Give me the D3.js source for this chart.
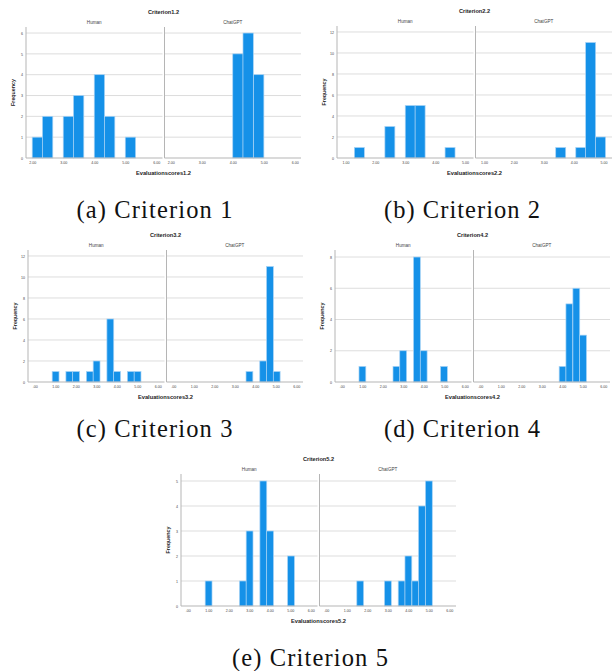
<!DOCTYPE html>
<html><head><meta charset="utf-8">
<script src="https://cdn.jsdelivr.net/npm/d3@7"></script>
<style>body{margin:0;background:#fff}</style>
</head><body>
<svg id="c" width="612" height="671" xmlns="http://www.w3.org/2000/svg"></svg>
<script>
// ---------- data ----------
const titles = ["Criterion1.2", "Criterion2.2", "Criterion3.2", "Criterion4.2", "Criterion5.2"];
const xTitles = ["Evaluationscores1.2", "Evaluationscores2.2", "Evaluationscores3.2", "Evaluationscores4.2", "Evaluationscores5.2"];
const captions = ["(a) Criterion 1", "(b) Criterion 2", "(c) Criterion 3", "(d) Criterion 4", "(e) Criterion 5"];
const groups = ["Human", "ChatGPT"];
const binWidth = 1 / 3;

// bin start values and frequencies
const c1HumanBins = [2.0, 2.33, 3.0, 3.33, 4.0, 4.33, 5.0];
const c1HumanCounts = [1, 2, 2, 3, 4, 2, 1];
const c1ChatBins = [4.0, 4.33, 4.67];
const c1ChatCounts = [5, 6, 4];

const c2HumanBins = [1.3, 2.32, 3.0, 3.33, 4.33];
const c2HumanCounts = [1, 3, 5, 5, 1];
const c2ChatBins = [3.4, 4.07, 4.4, 4.73];
const c2ChatCounts = [1, 1, 11, 2];

const c3HumanBins = [0.85, 1.52, 1.85, 2.52, 2.85, 3.52, 3.85, 4.52, 4.85];
const c3HumanCounts = [1, 1, 1, 1, 2, 6, 1, 1, 1];
const c3ChatBins = [3.55, 4.22, 4.55, 4.88];
const c3ChatCounts = [1, 2, 11, 1];

const c4HumanBins = [0.84, 2.5, 2.83, 3.5, 3.83, 4.82];
const c4HumanCounts = [1, 1, 2, 8, 2, 1];
const c4ChatBins = [3.85, 4.18, 4.52, 4.85];
const c4ChatCounts = [1, 5, 6, 3];

const c5HumanBins = [0.85, 2.52, 2.85, 3.52, 3.85, 4.87];
const c5HumanCounts = [1, 1, 3, 5, 3, 2];
const c5ChatBins = [1.49, 2.84, 3.51, 3.84, 4.18, 4.5, 4.84];
const c5ChatCounts = [1, 1, 1, 2, 1, 4, 5];

const yTicks = [[0,1,2,3,4,5,6], [0,2,4,6,8,10,12], [0,2,4,6,8,10,12], [0,2,4,6,8], [0,1,2,3,4,5]];
const xTicks = [[2,3,4,5,6], [1,2,3,4,5], [0,1,2,3,4,5,6], [0,1,2,3,4,5,6], [0,1,2,3,4,5,6]];

const series = [
  [[c1HumanBins, c1HumanCounts], [c1ChatBins, c1ChatCounts]],
  [[c2HumanBins, c2HumanCounts], [c2ChatBins, c2ChatCounts]],
  [[c3HumanBins, c3HumanCounts], [c3ChatBins, c3ChatCounts]],
  [[c4HumanBins, c4HumanCounts], [c4ChatBins, c4ChatCounts]],
  [[c5HumanBins, c5HumanCounts], [c5ChatBins, c5ChatCounts]]
];

// ---------- layout ----------
const layout = [
  {left: 26,  top: 27,  bottom: 158, xDom: [1.8, 6.2],    yMax: 6.29,  capX: 154.5, capY: 218},
  {left: 337, top: 26,  bottom: 158, xDom: [0.72, 5.28],  yMax: 12.57, capX: 462,   capY: 218},
  {left: 28,  top: 250, bottom: 382, xDom: [-0.33, 6.33], yMax: 12.57, capX: 154.5, capY: 437},
  {left: 335, top: 250, bottom: 382, xDom: [-0.33, 6.33], yMax: 8.45,  capX: 462,   capY: 437},
  {left: 181, top: 474, bottom: 606, xDom: [-0.33, 6.33], yMax: 5.28,  capX: 310,   capY: 666}
];
const facetW = 136.5, gap = 2;
const sans = "'Liberation Sans', Arial, sans-serif";
const fmt = d => d === 0 ? ".00" : d.toFixed(2);

const svg = d3.select("#c");

layout.forEach((L, i) => {
  const g = svg.append("g");
  const y = d3.scaleLinear().domain([0, L.yMax]).range([L.bottom, L.top]);
  const totalW = facetW * 2 + gap;
  const midX = L.left + totalW / 2;

  // title
  g.append("text").attr("x", midX).attr("y", L.top - 15).attr("dy", "0.35em")
    .attr("text-anchor", "middle").attr("font-family", sans).attr("font-weight", "bold")
    .attr("font-size", 5.6).attr("fill", "#222").text(titles[i]);

  // y title
  g.append("text").attr("transform", `translate(${L.left - 13},${(L.top + L.bottom) / 2}) rotate(-90)`)
    .attr("dy", "0.35em").attr("text-anchor", "middle").attr("font-family", sans)
    .attr("font-weight", "bold").attr("font-size", 5.3).attr("fill", "#222").text("Frequency");

  // x title
  g.append("text").attr("x", midX).attr("y", L.bottom + 15).attr("dy", "0.35em")
    .attr("text-anchor", "middle").attr("font-family", sans).attr("font-weight", "bold")
    .attr("font-size", 5.7).attr("fill", "#222").text(xTitles[i]);

  // y tick labels
  const yAxis = d3.axisLeft(y).tickValues(yTicks[i]).tickSize(0).tickPadding(3).tickFormat(d3.format("d"));
  const ya = g.append("g").attr("transform", `translate(${L.left},0)`).call(yAxis);
  ya.select(".domain").remove();
  ya.selectAll("text").attr("font-family", sans).attr("font-size", 3.6).attr("fill", "#444");

  groups.forEach((grp, j) => {
    const x0 = L.left + j * (facetW + gap);
    const x = d3.scaleLinear().domain(L.xDom).range([x0, x0 + facetW]);
    const fg = g.append("g");

    // gridlines
    fg.selectAll("line.grid").data(yTicks[i].filter(v => v > 0)).join("line")
      .attr("x1", x0).attr("x2", x0 + facetW)
      .attr("y1", d => y(d)).attr("y2", d => y(d))
      .attr("stroke", "#d9d9d9").attr("stroke-width", 0.9);

    // subtitle
    fg.append("text").attr("x", x0 + facetW / 2).attr("y", L.top - 4.5).attr("dy", "0.35em")
      .attr("text-anchor", "middle").attr("font-family", sans).attr("font-size", 4.6)
      .attr("fill", "#444").text(grp);

    // bars
    const [bins, counts] = series[i][j];
    const data = bins.map((b, k) => ({x0: b, n: counts[k]}));
    fg.selectAll("rect").data(data).join("rect")
      .attr("x", d => x(d.x0)).attr("width", d => x(d.x0 + binWidth) - x(d.x0))
      .attr("y", d => y(d.n)).attr("height", d => y(0) - y(d.n))
      .attr("fill", "#1591e8").attr("stroke", "#a8d3f5").attr("stroke-width", 0.7);

    // x axis
    const xAxis = d3.axisBottom(x).tickValues(xTicks[i]).tickSize(0).tickPadding(3).tickFormat(fmt);
    const xa = fg.append("g").attr("transform", `translate(0,${L.bottom})`).call(xAxis);
    xa.select(".domain").remove();
    xa.selectAll("text").attr("font-family", sans).attr("font-size", 3.6).attr("fill", "#444");

    // axis lines
    fg.append("line").attr("x1", x0).attr("x2", x0 + facetW).attr("y1", L.bottom).attr("y2", L.bottom)
      .attr("stroke", "#b5b5b5").attr("stroke-width", 1);
    fg.append("line").attr("x1", x0).attr("x2", x0).attr("y1", L.top).attr("y2", L.bottom)
      .attr("stroke", "#b5b5b5").attr("stroke-width", 1);
  });

  // caption
  svg.append("text").attr("x", L.capX).attr("y", L.capY).attr("text-anchor", "middle")
    .attr("font-family", "'Liberation Serif', 'Times New Roman', serif").attr("font-size", 24.5)
    .attr("fill", "#111").attr("textLength", 156).attr("lengthAdjust", "spacing")
    .text(captions[i]);
});
</script>
</body></html>
